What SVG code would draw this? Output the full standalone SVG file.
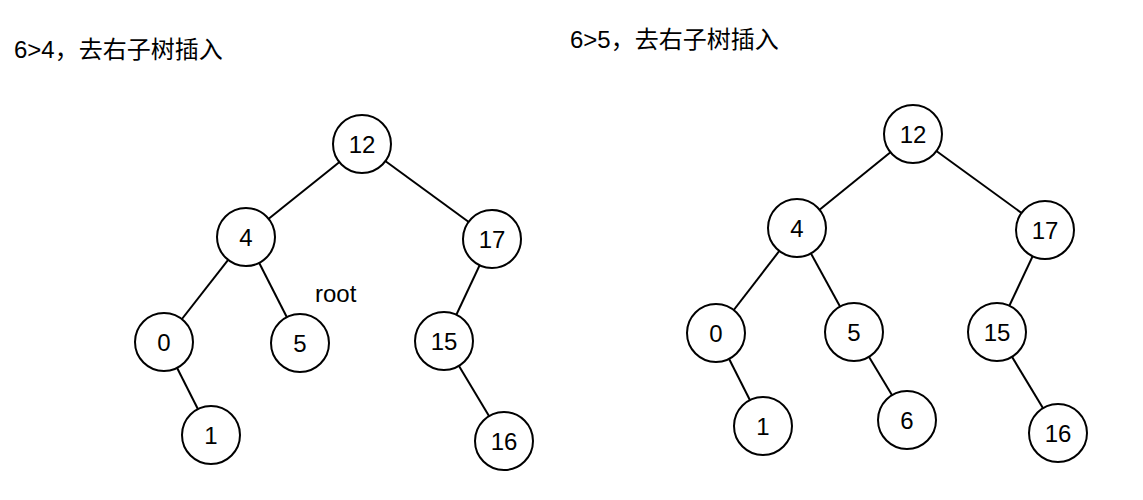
<svg xmlns="http://www.w3.org/2000/svg" width="1143" height="500" viewBox="0 0 1143 500">
<style>
.e{stroke:#000;stroke-width:2;fill:none}
.n circle{fill:#fff;stroke:#000;stroke-width:2}
.n text{font-family:"Liberation Sans",Arial,sans-serif;font-size:24px;text-anchor:middle;dominant-baseline:central}
.h{font-family:"Liberation Sans","Noto Sans CJK SC",sans-serif;font-size:24px}
</style>
<rect width="1143" height="500" fill="#fff"/>
<text class="h" x="14" y="58">6&gt;4，去右子树插入</text>
<text class="h" x="570" y="48">6&gt;5，去右子树插入</text>
<text class="h" x="315" y="302">root</text>
<g id="connectors">
<line class="e" x1="362" y1="144" x2="246" y2="237"/>
<line class="e" x1="362" y1="144" x2="492" y2="239"/>
<line class="e" x1="246" y1="237" x2="164" y2="342"/>
<line class="e" x1="246" y1="237" x2="300" y2="343"/>
<line class="e" x1="492" y1="239" x2="444" y2="341"/>
<line class="e" x1="164" y1="342" x2="211" y2="435"/>
<line class="e" x1="444" y1="341" x2="504" y2="441"/>
<line class="e" x1="913" y1="134" x2="797" y2="228"/>
<line class="e" x1="913" y1="134" x2="1045" y2="230"/>
<line class="e" x1="797" y1="228" x2="716" y2="333"/>
<line class="e" x1="797" y1="228" x2="854" y2="332"/>
<line class="e" x1="1045" y1="230" x2="997" y2="332"/>
<line class="e" x1="716" y1="333" x2="763" y2="426"/>
<line class="e" x1="854" y1="332" x2="907" y2="420"/>
<line class="e" x1="997" y1="332" x2="1058" y2="433"/>
</g>
<g id="L12" class="n"><circle cx="362" cy="144" r="29"/><text x="362" y="144">12</text></g>
<g id="L4" class="n"><circle cx="246" cy="237" r="29"/><text x="246" y="237">4</text></g>
<g id="L17" class="n"><circle cx="492" cy="239" r="29"/><text x="492" y="239">17</text></g>
<g id="L0" class="n"><circle cx="164" cy="342" r="29"/><text x="164" y="342">0</text></g>
<g id="L5" class="n"><circle cx="300" cy="343" r="29"/><text x="300" y="343">5</text></g>
<g id="L15" class="n"><circle cx="444" cy="341" r="29"/><text x="444" y="341">15</text></g>
<g id="L1" class="n"><circle cx="211" cy="435" r="29"/><text x="211" y="435">1</text></g>
<g id="L16" class="n"><circle cx="504" cy="441" r="29"/><text x="504" y="441">16</text></g>
<g id="R12" class="n"><circle cx="913" cy="134" r="29"/><text x="913" y="134">12</text></g>
<g id="R4" class="n"><circle cx="797" cy="228" r="29"/><text x="797" y="228">4</text></g>
<g id="R17" class="n"><circle cx="1045" cy="230" r="29"/><text x="1045" y="230">17</text></g>
<g id="R0" class="n"><circle cx="716" cy="333" r="29"/><text x="716" y="333">0</text></g>
<g id="R5" class="n"><circle cx="854" cy="332" r="29"/><text x="854" y="332">5</text></g>
<g id="R15" class="n"><circle cx="997" cy="332" r="29"/><text x="997" y="332">15</text></g>
<g id="R1" class="n"><circle cx="763" cy="426" r="29"/><text x="763" y="426">1</text></g>
<g id="R6" class="n"><circle cx="907" cy="420" r="29"/><text x="907" y="420">6</text></g>
<g id="R16" class="n"><circle cx="1058" cy="433" r="29"/><text x="1058" y="433">16</text></g>
</svg>
